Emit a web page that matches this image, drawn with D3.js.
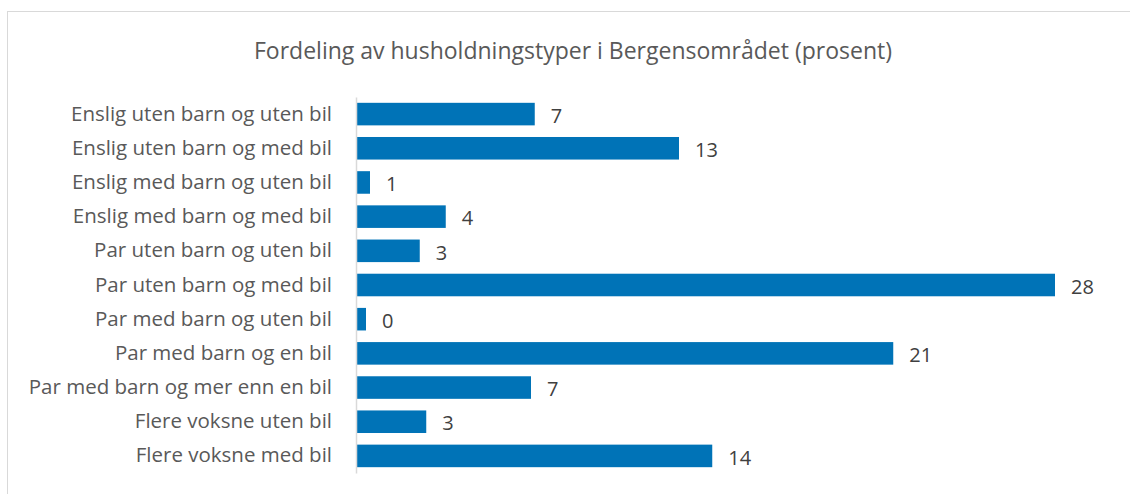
<!DOCTYPE html>
<meta charset="utf-8">
<style>
body { margin: 0; background: #fff; }
.cat text { font-family: "Open Sans", sans-serif; font-size: 20.5px; fill: #595959; }
.vals text { font-family: "Open Sans", sans-serif; font-size: 20px; fill: #404040; }
.title { font-family: "Open Sans", sans-serif; font-size: 23px; fill: #595959; }
</style>
<svg width="1130" height="494"></svg>
<script src="https://d3js.org/d3.v7.min.js"></script>
<script>

var categories = [
  "Enslig uten barn og uten bil",
  "Enslig uten barn og med bil",
  "Enslig med barn og uten bil",
  "Enslig med barn og med bil",
  "Par uten barn og uten bil",
  "Par uten barn og med bil",
  "Par med barn og uten bil",
  "Par med barn og en bil",
  "Par med barn og mer enn en bil",
  "Flere voksne uten bil",
  "Flere voksne med bil"
];

var values = [7.15, 12.92, 0.56, 3.59, 2.55, 27.96, 0.40, 21.49, 7.0, 2.81, 14.25];

var title = "Fordeling av husholdningstyper i Bergensområdet (prosent)";

var svg = d3.select("svg"),
    width = +svg.attr("width"),
    height = +svg.attr("height");

// chart frame (only top/left edges are in view)
svg.append("rect")
    .attr("x", 7.5).attr("y", 11.5)
    .attr("width", 1300).attr("height", 600)
    .attr("fill", "#fff")
    .attr("stroke", "#d9d9d9");

svg.append("text")
    .attr("class", "title")
    .attr("x", 573)
    .attr("y", 59)
    .attr("text-anchor", "middle")
    .text(title);

var x = d3.scaleLinear()
    .domain([0, 30])
    .range([356, 356 + 750]);

var y = d3.scaleBand()
    .domain(categories)
    .range([97, 473])
    .paddingInner(0.34)
    .paddingOuter(0.17);

var fmt = d3.format(".0f");

svg.append("g")
    .selectAll("rect")
    .data(values)
    .enter().append("rect")
      .attr("x", x(0))
      .attr("y", function(d, i) { return y(categories[i]); })
      .attr("width", function(d) { return x(d) - x(0); })
      .attr("height", y.bandwidth())
      .attr("fill", "#0073b7");

svg.append("g")
    .attr("class", "vals")
  .selectAll("text")
  .data(values)
  .enter().append("text")
    .attr("x", function(d) { return x(d) + 16; })
    .attr("y", function(d, i) { return y(categories[i]) + y.bandwidth() / 2 + 1.5; })
    .attr("dy", "0.36em")
    .text(function(d) { return fmt(d); });

var yAxis = svg.append("g")
    .attr("class", "cat")
    .attr("transform", "translate(356,0)")
    .call(d3.axisLeft(y).tickSize(0).tickPadding(24));

yAxis.select(".domain")
    .attr("stroke", "#d9d9d9")
    .attr("stroke-width", 1.5);

yAxis.selectAll("text")
    .attr("font-family", null)
    .attr("font-size", null)
    .attr("fill", null);

</script>
